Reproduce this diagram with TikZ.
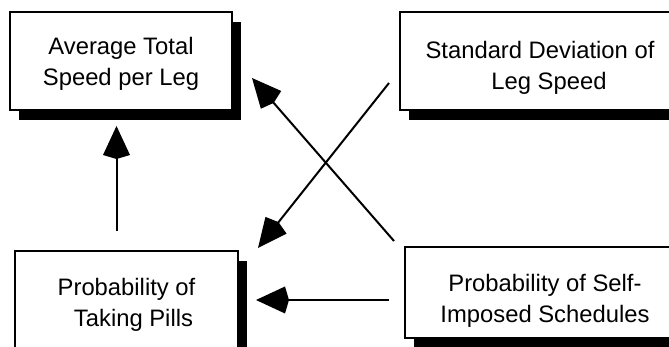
\documentclass[tikz,border=0pt]{standalone}
\usepackage{fontspec}
\setmainfont{Liberation Sans}
\usetikzlibrary{arrows.meta,positioning,shadows}

\tikzset{
  factor/.style={draw, line width=2pt, fill=white, inner sep=0pt,
    minimum width=222pt, minimum height=98pt,
    font=\fontsize{23.8}{31}\selectfont,
    drop shadow={shadow xshift=9pt, shadow yshift=-10pt, fill=black, opacity=1}},
  effect/.style={line width=2pt, -{Kite[length=33pt,width=27pt,inset=4pt]}}
}
% #1: extra room on top (pushes text down), #3: extra room right (pushes text left)
\newcommand{\factortext}[3][0pt]{\raisebox{0pt}[\dimexpr\height+#1\relax]{\begin{tabular}{@{}c@{}}#2\end{tabular}}\hspace{#3}}

\begin{document}
\begin{tikzpicture}[x=1pt, y=1pt]
  \useasboundingbox (0,0) rectangle (669,347);
  \node[factor] (avg) at (121,286) {\factortext[6pt]{Average Total\\Speed per Leg}{25pt}};
  \node[factor, minimum width=280pt, right=166pt of avg] (sd)
    {\factortext[14pt]{Standard Deviation of\\\hspace{18pt}Leg Speed}{44pt}};
  \node[factor, minimum width=223pt, below=139pt of avg.south west, anchor=north west, xshift=5pt] (pills)
    {\factortext[9pt]{Probability of\\\hspace{14pt}Taking Pills}{23pt}};
  \node[factor, minimum width=280pt, minimum height=91pt, below=135pt of sd.south west, anchor=north west, xshift=5pt] (self)
    {\factortext[17pt]{Probability of Self-\\Imposed Schedules}{46pt}};
  % arrows between factors
  \draw[effect, shorten <=19pt, shorten >=15pt] ([xshift=-10pt]pills.north) -- ([xshift=-10pt]pills.north |- avg.south);
  \draw[effect, shorten <=15pt, shorten >=17pt] (self.west |- pills.east) -- (pills.east);
  \draw[effect] ([shift={(-10pt,5pt)}]self.north west) -- ([shift={(19pt,-17pt)}]avg.east);
  \draw[effect] ([shift={(-10pt,-22pt)}]sd.west) -- ([shift={(19pt,2pt)}]pills.north east);
\end{tikzpicture}
\end{document}
